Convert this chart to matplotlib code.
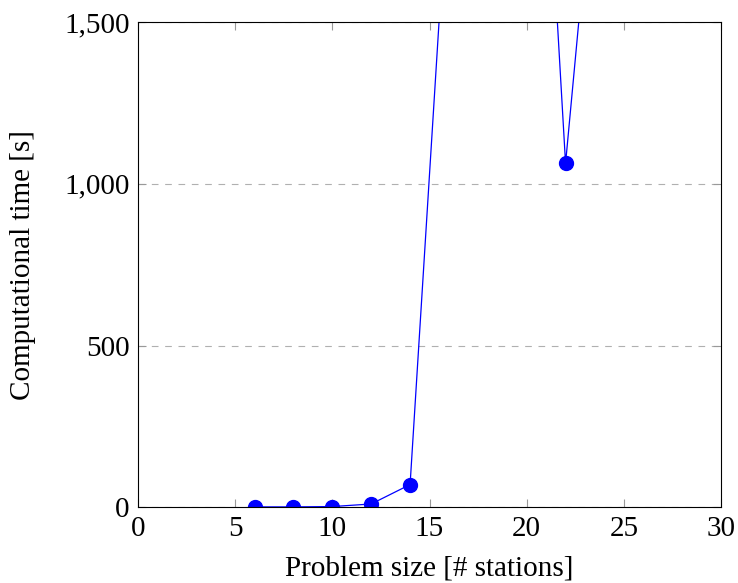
import numpy as np
import matplotlib.pyplot as plt
from matplotlib.ticker import FuncFormatter

plt.rcParams['font.family'] = ['Liberation Serif', 'DejaVu Serif']

stations = [6, 8, 10, 12, 14, 16, 18, 20, 22, 24]
times = [1, 1, 2, 10, 70, 1990, 2600, 3140, 1063, 2350]

fig = plt.figure(figsize=(7.38, 5.83), dpi=100)
ax = fig.add_axes([0.187, 0.130, 0.790, 0.832])

ax.plot(stations, times, "-o", color="blue", lw=0.9, markersize=10, clip_on=True)

ax.set_xlim(0, 30)
ax.set_ylim(0, 1500)
ax.set_xticks([0, 5, 10, 15, 20, 25, 30])
ax.set_yticks([0, 500, 1000, 1500])
ax.yaxis.set_major_formatter(FuncFormatter(lambda v, p: f"{int(v):,}"))
ax.grid(axis="y", color="#b0b0b0", linestyle=(0, (6, 6)), lw=0.8)
ax.tick_params(direction="in", top=True, right=True, labelsize=21, length=6,
               color="#999999", pad=6)
for s in ax.spines.values():
    s.set_linewidth(0.8)

ax.set_xlabel("Problem size [# stations]", fontsize=21, labelpad=10)
ax.set_ylabel("Computational time [s]", fontsize=21, labelpad=20)

fig.savefig("out.png", dpi=100)
